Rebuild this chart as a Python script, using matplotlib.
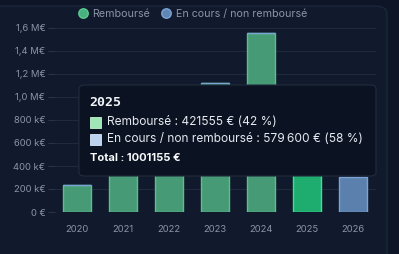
import matplotlib.pyplot as plt
from matplotlib.patches import FancyBboxPatch
from matplotlib.lines import Line2D
from matplotlib.ticker import FuncFormatter

annees = ['2020', '2021', '2022', '2023', '2024', '2025', '2026']
rembourse = [237000, 700000, 850000, 1120000, 1556000, 421555, 0]
en_cours = [0, 0, 0, 0, 0, 579600, 302000]
survol = 5  # année survolée (tooltip)

plt.rcParams['font.family'] = ['Inter', 'DejaVu Sans']

fig = plt.figure(figsize=(3.99, 2.54), dpi=100)
fig.patch.set_facecolor('#0e1526')
# panneau arrondi
fig.patches.append(FancyBboxPatch((-20/399, -20/254), 407/399, 268/254,
                                  boxstyle='round,pad=0,rounding_size=0.03',
                                  transform=fig.transFigure, facecolor='#111a2d',
                                  edgecolor='#1c2639', linewidth=1, zorder=-5))

ax = fig.add_axes([55/399, 42/254, 321/399, 184/254])
ax.set_facecolor('none')

x = list(range(len(annees)))
vert = ['#1fad6f' if i == survol else '#479a76' for i in x]
vert_bord = ['#35e68f' if i == survol else '#5cbf8b' for i in x]
ax.bar(x, rembourse, 0.59, color=vert, edgecolor=vert_bord, linewidth=1, zorder=3)
ax.bar(x, en_cours, 0.59, bottom=rembourse, color='#5b80ad', edgecolor='#7ba4d6',
       linewidth=1, zorder=3)

def fmt(v, pos):
    if v == 0:
        return '0 €'
    if v >= 1e6:
        return ('%.1f M€' % (v / 1e6)).replace('.', ',')
    return '%d k€' % (v / 1e3)

ax.set_ylim(0, 1.6e6)
ax.set_xlim(-0.478, 6.5)
ax.set_yticks([i * 200000 for i in range(9)])
ax.yaxis.set_major_formatter(FuncFormatter(fmt))
ax.set_xticks(x)
ax.set_xticklabels(annees)
ax.grid(axis='y', color='#1f2a3d', linewidth=0.8, zorder=0)
for s in ax.spines.values():
    s.set_visible(False)
ax.tick_params(axis='y', colors='#273244', labelcolor='#8a94a6', labelsize=6.8,
               length=5, width=0.8, pad=2)
ax.tick_params(axis='x', length=0, labelcolor='#8a94a6', labelsize=6.8, pad=9)

# légende
poignees = [Line2D([], [], marker='o', linestyle='', markersize=6.8,
                   markerfacecolor='#48b07e', markeredgecolor='#5cc98f'),
            Line2D([], [], marker='o', linestyle='', markersize=6.8,
                   markerfacecolor='#5f86b5', markeredgecolor='#7ba4d6')]
fig.legend(poignees, ['Remboursé', 'En cours / non remboursé'], loc='center',
           bbox_to_anchor=(192/399, 1 - 14/254), ncol=2, frameon=False,
           fontsize=7.7, labelcolor='#8a94a6', handletextpad=0.3, columnspacing=0.9,
           handlelength=1.2)

# tooltip
fig.patches.append(FancyBboxPatch((79/399, 1 - 176/254), 297/399, 91/254,
                                  boxstyle='round,pad=0,rounding_size=0.015',
                                  transform=fig.transFigure, facecolor='#0b1221',
                                  edgecolor='#222c3d', linewidth=0.8, zorder=10))
tot = rembourse[survol] + en_cours[survol]
fig.text(89/399, 1 - 102/254, annees[survol], fontsize=9.5, fontweight='bold',
         family='DejaVu Sans Mono', color='#f1f5f9', va='center', zorder=11)
lignes = [('#9ee6b6', '#c5f2d4', 'Remboursé : %d € (%d %%)' % (rembourse[survol],
                                                              round(rembourse[survol] / tot * 100))),
          ('#bcd3f0', '#dbe7f7', 'En cours / non remboursé : %s € (%d %%)' % (
              '{:,}'.format(en_cours[survol]).replace(',', '\u202f'),
              round(en_cours[survol] / tot * 100)))]
for k, (c, cb, t) in enumerate(lignes):
    yc = 1 - (122 + 17 * k) / 254
    fig.patches.append(FancyBboxPatch((90/399, yc - 5.5/254), 11/399, 11/254,
                                      boxstyle='square,pad=0', transform=fig.transFigure,
                                      facecolor=c, edgecolor=cb, linewidth=0.6, zorder=11))
    fig.text(107/399, yc, t, fontsize=8.6, color='#e5e9f0', va='center', zorder=12,
             family=['Inter', 'DejaVu Sans'])
fig.text(90/399, 1 - 158/254, 'Total : %d €' % tot, fontsize=8, fontweight='bold',
         color='#f8fafc', va='center', zorder=12)

fig.savefig('out.png', dpi=100, facecolor=fig.get_facecolor())
